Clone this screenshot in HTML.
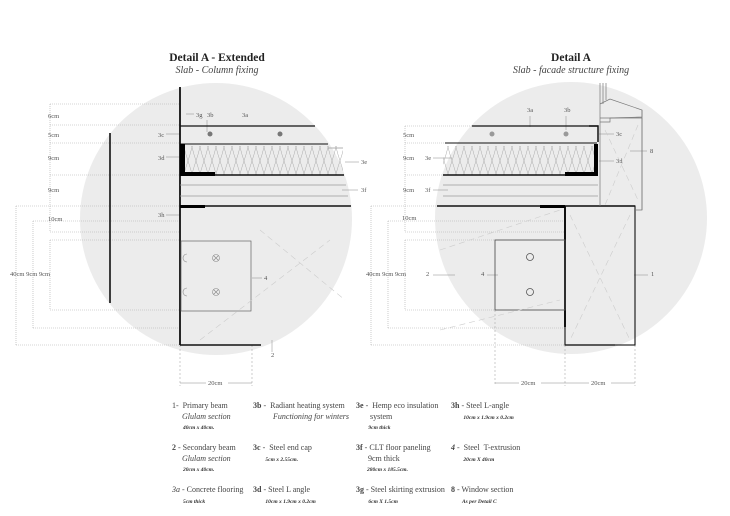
<!DOCTYPE html>
<html><head><meta charset="utf-8"><style>
html,body{margin:0;padding:0;background:#fff;}
svg{display:block;font-family:"Liberation Serif",serif;}
.l{position:absolute;font-family:"Liberation Serif",serif;color:#444;font-size:8px;line-height:10.5px;white-space:nowrap}
.s{font-size:5.5px;font-style:italic;font-weight:bold;color:#333}
</style></head><body>
<div style="position:relative;width:730px;height:516px;overflow:hidden">
<svg width="730" height="516" viewBox="0 0 730 516">
<defs>
<pattern id="ins" x="0" y="146" width="8" height="29" patternUnits="userSpaceOnUse">
<path d="M0,1 C2,10 6,20 8,28 M8,1 C6,10 2,20 0,28 M0,28 Q4,34 8,28 M0,1 Q4,-5 8,1" fill="none" stroke="#aaa" stroke-width="0.5"/>
</pattern>
</defs>
<circle cx="216" cy="219" r="136" fill="#ececec"/>
<circle cx="571" cy="218" r="136" fill="#ececec"/>
<text x="217" y="61" text-anchor="middle" font-size="11.5" font-weight="bold" fill="#222">Detail A - Extended</text>
<text x="217" y="73" text-anchor="middle" font-size="10" font-style="italic" fill="#444">Slab - Column fixing</text>
<text x="571" y="61" text-anchor="middle" font-size="11.5" font-weight="bold" fill="#222">Detail A</text>
<text x="571" y="73" text-anchor="middle" font-size="10" font-style="italic" fill="#444">Slab - facade structure fixing</text>

<g stroke="#aaa" stroke-width="0.6" stroke-dasharray="1,1" fill="none">
<path d="M50 104H180M50 125H180M50 143H180M50 175H180M16 206H180M33 221H180M50 232H180M50 240H180M50 310H180M33 328H180M16 345H180"/>
<path d="M50 104V232M16 206V345M33 221V328M50 240V310"/>
<path d="M180 345V386M252 345V386" stroke-dasharray="2,2"/>
</g>
<g font-size="6.5" fill="#555">
<text x="48" y="118">6cm</text><text x="48" y="137">5cm</text><text x="48" y="160">9cm</text><text x="48" y="192">9cm</text><text x="48" y="221">10cm</text>
<text x="10" y="276">40cm  9cm  9cm</text>
<text x="196" y="117">3g</text><text x="207" y="117">3b</text><text x="242" y="117">3a</text>
<text x="158" y="137">3c</text><text x="158" y="160">3d</text><text x="158" y="217">3h</text>
<text x="361" y="164">3e</text><text x="361" y="192">3f</text><text x="264" y="280">4</text><text x="271" y="357">2</text>
<text x="208" y="385">20cm</text>
</g>
<g stroke="#888" stroke-width="0.5">
<path d="M186 114H194M166 134H180M166 157H180M166 215H180M345 162H359M342 190H358M252 278H262M272 340V352M180 383H206M228 383H252"/>
<path d="M207 120V132"/>
</g>
<rect x="183" y="146" width="160" height="29" fill="url(#ins)"/>
<g stroke="#111" fill="none">
<path d="M180 87V345" stroke-width="1.8"/>
<path d="M180 126H315" stroke-width="1.3"/>
<path d="M180 144H328" stroke-width="1"/>
<path d="M180 175H344" stroke-width="1.5"/>
<path d="M180 206H351" stroke-width="1.6"/>
<path d="M180 345H261" stroke-width="1.6"/>
<path d="M110 133V303" stroke-width="1.6"/>
</g>
<path d="M180 185H346M180 196H348M328 148H343" stroke="#999" stroke-width="0.7"/>
<rect x="180" y="144" width="5" height="31" fill="#000"/>
<rect x="180" y="172" width="35" height="4" fill="#000"/>
<rect x="180" y="205" width="25" height="3" fill="#000"/>
<rect x="181" y="241" width="70" height="70" fill="none" stroke="#666" stroke-width="0.7"/>
<circle cx="210" cy="134" r="2.5" fill="#777"/><circle cx="280" cy="134" r="2.5" fill="#777"/>
<g stroke="#888" stroke-width="0.6" fill="none">
<circle cx="216" cy="258" r="3.5"/><path d="M213.5 255.5l5 5M218.5 255.5l-5 5"/>
<circle cx="216" cy="292" r="3.5"/><path d="M213.5 289.5l5 5M218.5 289.5l-5 5"/>
<path d="M187 254a4 4 0 0 0 0 8M187 288a4 4 0 0 0 0 8"/>
</g>
<path d="M200 340L330 240M260 230L345 300" stroke="#ccc" stroke-width="0.6" stroke-dasharray="6,4" fill="none"/>

<g stroke="#aaa" stroke-width="0.6" stroke-dasharray="1,1" fill="none">
<path d="M405 126H472M405 143H445M405 175H443M371 206H437M388 221H565M405 232H565M405 240H495M405 310H495M388 328H565M371 345H565"/>
<path d="M405 126V232M371 206V345M388 221V328M405 240V310"/>
<path d="M495 310V386M565 345V386M635 345V386" stroke-dasharray="2,2"/>
</g>
<g font-size="6.5" fill="#555">
<text x="403" y="137">5cm</text><text x="403" y="160">9cm</text><text x="425" y="160">3e</text><text x="403" y="192">9cm</text><text x="425" y="192">3f</text><text x="402" y="220">10cm</text>
<text x="366" y="276">40cm  9cm  9cm</text>
<text x="426" y="276">2</text><text x="481" y="276">4</text><text x="651" y="276">1</text>
<text x="527" y="112">3a</text><text x="564" y="112">3b</text><text x="616" y="136">3c</text><text x="616" y="163">3d</text><text x="650" y="153">8</text>
<text x="521" y="385">20cm</text><text x="591" y="385">20cm</text>
</g>
<g stroke="#888" stroke-width="0.5">
<path d="M433 158H452M433 190H448M433 275H455M487 275H498M634 275H648M599 134H614M599 161H614M630 151H647M495 383H519M541 383H565M565 383H589M611 383H635M530 116V127M566 116V130"/>
</g>
<rect x="443" y="146" width="153" height="29" fill="url(#ins)"/>
<g stroke="#111" fill="none">
<path d="M472 126H598" stroke-width="1.3"/>
<path d="M445 143H597" stroke-width="1"/>
<path d="M443 175H598" stroke-width="1.5"/>
<path d="M437 206H635" stroke-width="1.5"/>
<rect x="565" y="206" width="70" height="139" stroke-width="1.1"/>
<path d="M565 206V327" stroke-width="2"/>
<path d="M565 345H615" stroke-width="1.3"/>
<path d="M589 126H598V142" stroke-width="1.5"/>
</g>
<path d="M443 185H598M443 196H598" stroke="#999" stroke-width="0.7"/>
<rect x="594" y="144" width="4" height="31" fill="#000"/>
<rect x="565" y="172" width="33" height="4" fill="#000"/>
<rect x="540" y="205" width="25" height="3" fill="#000"/>
<rect x="495" y="240" width="70" height="70" fill="none" stroke="#555" stroke-width="0.9"/>
<circle cx="530" cy="257" r="3.5" fill="none" stroke="#555" stroke-width="0.8"/>
<circle cx="530" cy="292" r="3.5" fill="none" stroke="#555" stroke-width="0.8"/>
<circle cx="492" cy="134" r="2.5" fill="#999"/><circle cx="566" cy="134" r="2.5" fill="#999"/>
<g stroke="#777" stroke-width="0.7" fill="none">
<path d="M600 83V206M603 83V104M606 83V100M600 104L610 99L642 110V117L610 118V122L600 122"/>
<path d="M600 118H642V210H636"/>
<path d="M642 110V210"/>
</g>
<path d="M570 215L630 340M630 215L570 340M605 130L638 200M638 125L605 205" stroke="#ccc" stroke-width="0.6" stroke-dasharray="6,4" fill="none"/>
<path d="M440 250L560 210M440 330L560 300" stroke="#ccc" stroke-width="0.6" stroke-dasharray="6,4" fill="none"/>
</svg>

<div class="l" style="left:172px;top:401px">1- &nbsp;Primary beam<br><i>&nbsp;&nbsp;&nbsp;&nbsp;&nbsp;Glulam section</i><br><span class="s">&nbsp;&nbsp;&nbsp;&nbsp;&nbsp;&nbsp;&nbsp;&nbsp;40cm x 40cm.</span></div>
<div class="l" style="left:172px;top:443px"><b>2</b> - Secondary beam<br><i>&nbsp;&nbsp;&nbsp;&nbsp;&nbsp;Glulam section</i><br><span class="s">&nbsp;&nbsp;&nbsp;&nbsp;&nbsp;&nbsp;&nbsp;&nbsp;20cm x 40cm.</span></div>
<div class="l" style="left:172px;top:485px"><i>3a</i> - Concrete flooring<br><span class="s">&nbsp;&nbsp;&nbsp;&nbsp;&nbsp;&nbsp;&nbsp;&nbsp;5cm thick</span></div>
<div class="l" style="left:253px;top:401px"><b>3b</b> - &nbsp;Radiant heating system<br><i>&nbsp;&nbsp;&nbsp;&nbsp;&nbsp;&nbsp;&nbsp;&nbsp;&nbsp;&nbsp;Functioning for winters</i></div>
<div class="l" style="left:253px;top:443px"><b>3c</b> - &nbsp;Steel end cap<br><span class="s">&nbsp;&nbsp;&nbsp;&nbsp;&nbsp;&nbsp;&nbsp;&nbsp;&nbsp;5cm x 2.55cm.</span></div>
<div class="l" style="left:253px;top:485px"><b>3d</b> - Steel L angle<br><span class="s">&nbsp;&nbsp;&nbsp;&nbsp;&nbsp;&nbsp;&nbsp;&nbsp;&nbsp;10cm x 1.9cm x 0.2cm</span></div>
<div class="l" style="left:356px;top:401px"><b>3e</b> - &nbsp;Hemp eco insulation<br>&nbsp;&nbsp;&nbsp;&nbsp;&nbsp;&nbsp;&nbsp;system<br><span class="s">&nbsp;&nbsp;&nbsp;&nbsp;&nbsp;&nbsp;&nbsp;&nbsp;&nbsp;9cm thick</span></div>
<div class="l" style="left:356px;top:443px"><b>3f</b> - CLT floor paneling<br>&nbsp;&nbsp;&nbsp;&nbsp;&nbsp;&nbsp;9cm thick<br><span class="s">&nbsp;&nbsp;&nbsp;&nbsp;&nbsp;&nbsp;&nbsp;&nbsp;280cm x 185.5cm.</span></div>
<div class="l" style="left:356px;top:485px"><b>3g</b> - Steel skirting extrusion<br><span class="s">&nbsp;&nbsp;&nbsp;&nbsp;&nbsp;&nbsp;&nbsp;&nbsp;&nbsp;6cm X 1.5cm</span></div>
<div class="l" style="left:451px;top:401px"><b>3h</b> - Steel L-angle<br><span class="s">&nbsp;&nbsp;&nbsp;&nbsp;&nbsp;&nbsp;&nbsp;&nbsp;&nbsp;10cm x 1.9cm x 0.2cm</span></div>
<div class="l" style="left:451px;top:443px"><b><i>4</i></b> - &nbsp;Steel &nbsp;T-extrusion<br><span class="s">&nbsp;&nbsp;&nbsp;&nbsp;&nbsp;&nbsp;&nbsp;&nbsp;&nbsp;20cm X 40cm</span></div>
<div class="l" style="left:451px;top:485px"><b>8</b> - Window section<br><span class="s">&nbsp;&nbsp;&nbsp;&nbsp;&nbsp;&nbsp;&nbsp;&nbsp;As per Detail C</span></div>
</div>
</body></html>
